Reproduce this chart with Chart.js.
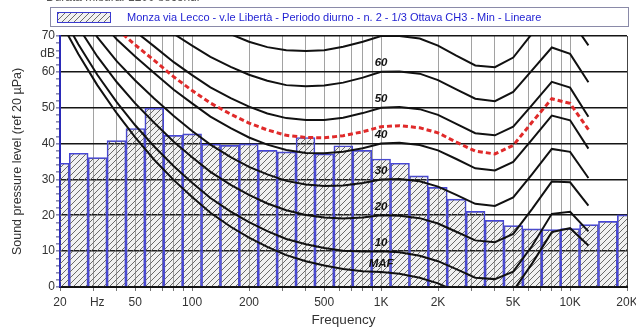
<!DOCTYPE html>
<html><head><meta charset="utf-8">
<script src="https://cdn.jsdelivr.net/npm/chart.js@4.4.1/dist/chart.umd.min.js"></script>
<style>html,body{margin:0;padding:0;background:#fff;}canvas{display:block;}</style>
</head><body>
<canvas id="c" width="636" height="329"></canvas>
<script>
// ---- DATA ----
const seriesLabel = 'Monza via Lecco - v.le Libertà - Periodo diurno - n. 2 - 1/3 Ottava CH3 - Min - Lineare';
const topNote = 'Durata misura: 1200 secondi';
// 1/3 octave band centres (Hz)
const bandHz = [19.95, 25.12, 31.62, 39.81, 50.12, 63.10, 79.43, 100, 125.9, 158.5, 199.5, 251.2, 316.2, 398.1, 501.2, 631.0, 794.3, 1000, 1258.9, 1584.9, 1995.3, 2511.9, 3162.3, 3981.1, 5011.9, 6309.6, 7943.3, 10000, 12589, 15849, 19953];
const bandLevels = [34.5, 37.3, 36.1, 40.8, 44.2, 49.9, 42.3, 42.7, 39.8, 39.5, 39.9, 38.1, 37.7, 41.7, 37.1, 39.4, 38.1, 35.7, 34.5, 31.0, 27.8, 24.5, 21.1, 18.6, 17.1, 16.2, 16.0, 16.3, 17.4, 18.3, 20.1];
// equal loudness contours (dB at each 1/3 octave frequency)
const contourHz = [20, 25, 31.5, 40, 50, 63, 80, 100, 125, 160, 200, 250, 315, 400, 500, 630, 800, 1000, 1250, 1600, 2000, 2500, 3150, 4000, 5000, 6300, 8000, 10000, 12500];
const mafLevels = [74.3, 65.0, 56.3, 48.4, 41.7, 35.5, 29.8, 25.1, 20.7, 16.8, 13.8, 11.2, 8.9, 7.2, 6.0, 5.0, 4.4, 4.2, 3.7, 2.6, 1.0, -1.2, -3.6, -3.9, -1.1, 6.6, 15.3, 16.4, 11.6];
const phon10 = [76.8, 67.7, 59.2, 51.5, 45.1, 39.2, 33.7, 29.1, 24.8, 21.0, 18.1, 15.6, 13.4, 11.9, 10.9, 10.1, 9.9, 10.0, 9.7, 8.7, 7.2, 5.0, 2.6, 2.2, 4.3, 11.5, 20.4, 21.0, 15.5];
const phon20 = [81.3, 72.5, 64.3, 57.1, 51.2, 45.8, 40.5, 36.2, 32.1, 28.5, 25.7, 23.3, 21.4, 20.1, 19.4, 19.1, 19.4, 20.0, 19.9, 19.2, 17.7, 15.4, 13.0, 12.5, 14.8, 21.8, 29.4, 29.2, 22.7];
const phon30 = [86.0, 77.6, 69.7, 62.9, 57.6, 52.6, 47.7, 43.5, 39.7, 36.2, 33.5, 31.4, 29.6, 28.6, 28.2, 28.3, 29.0, 30.0, 30.1, 29.5, 28.0, 25.7, 23.2, 22.6, 25.0, 31.5, 38.5, 37.7, 30.4];
const phon40 = [91.0, 82.9, 75.4, 69.0, 64.3, 59.7, 55.0, 51.2, 47.5, 44.3, 41.7, 39.7, 38.2, 37.4, 37.3, 37.7, 38.7, 40.0, 40.2, 39.6, 38.1, 35.7, 33.1, 32.5, 34.9, 41.2, 47.8, 46.5, 38.6];
const measuredPhon = [93.4, 85.5, 78.1, 72.0, 67.5, 63.2, 58.6, 54.8, 51.3, 48.2, 45.7, 43.8, 42.3, 41.7, 41.6, 42.2, 43.3, 44.7, 45.0, 44.4, 43.0, 40.4, 37.9, 37.1, 39.5, 46.0, 52.5, 51.2, 43.9];
const phon50 = [96.2, 88.5, 81.3, 75.4, 71.3, 67.1, 62.7, 59.1, 55.7, 52.7, 50.3, 48.4, 47.1, 46.6, 46.6, 47.2, 48.5, 50.0, 50.2, 49.6, 48.0, 45.5, 42.9, 42.3, 44.7, 50.8, 57.2, 55.6, 47.5];
const phon60 = [101.7, 94.4, 87.6, 82.1, 78.6, 74.8, 70.6, 67.3, 64.2, 61.4, 59.2, 57.5, 56.3, 56.0, 56.2, 57.0, 58.4, 60.0, 60.1, 59.5, 57.7, 55.1, 52.5, 51.8, 54.4, 60.5, 66.8, 65.0, 57.1];
const phon70 = [107.6, 100.7, 94.3, 89.2, 86.4, 82.8, 78.8, 75.8, 73.0, 70.5, 68.4, 66.9, 66.0, 65.8, 66.0, 67.0, 68.4, 70.0, 70.0, 69.3, 67.3, 64.5, 61.8, 61.3, 64.0, 70.7, 76.4, 74.8, 67.4];
const contourNames = ['60', '50', '40', '30', '20', '10', 'MAF'];
const contourNameLevels = [62.6, 52.6, 42.4, 32.4, 22.3, 12.3, 6.5];
const contourNameHz = 1000;
// axis ticks
const gridHz = [20, 30, 31.5, 40, 50, 60, 70, 80, 90, 100, 200, 300, 400, 500, 600, 700, 800, 900, 1000, 2000, 3000, 4000, 5000, 6000, 7000, 8000, 9000, 10000, 20000];
const xTickText = {20: '20', 31.5: 'Hz', 50: '50', 100: '100', 200: '200', 500: '500', 1000: '1K', 2000: '2K', 5000: '5K', 10000: '10K', 20000: '20K'};
const yTickValues = [0, 2, 4, 6, 8, 10, 12, 14, 16, 18, 20, 22, 24, 26, 28, 30, 32, 34, 36, 38, 40, 42, 44, 46, 48, 50, 52, 54, 56, 58, 60, 62, 64, 65, 66, 68, 70];
const yTickText = {0: '0', 10: '10', 20: '20', 30: '30', 40: '40', 50: '50', 60: '60', 65: 'dB', 70: '70'};

// ---- STYLE ----
const FONT = '"Liberation Sans", Arial, sans-serif';
function makeHatch() {
  const c = document.createElement('canvas');
  c.width = 6; c.height = 6;
  const g = c.getContext('2d');
  g.fillStyle = 'rgba(120,120,120,0.10)';
  g.fillRect(0, 0, 6, 6);
  g.strokeStyle = '#6a6a6a';
  g.lineWidth = 1;
  g.beginPath();
  g.moveTo(0, 6); g.lineTo(6, 0);
  g.moveTo(-1, 1); g.lineTo(1, -1);
  g.moveTo(5, 7); g.lineTo(7, 5);
  g.stroke();
  return g.createPattern(c, 'repeat');
}
const hatch = makeHatch();

function pts(levels) { return contourHz.map((f, i) => ({x: f, y: levels[i]})); }
function curve(label, levels) {
  return {type: 'line', label, data: pts(levels), borderColor: '#111', borderWidth: 2,
    pointRadius: 0, tension: 0, fill: false, order: 1};
}

const labelPlugin = {
  id: 'decor',
  afterDatasetsDraw(chart) {
    const ctx = chart.ctx, xs = chart.scales.x, ys = chart.scales.y;
    ctx.save();
    ctx.font = 'italic bold 11.5px ' + FONT;
    ctx.fillStyle = '#111';
    ctx.textAlign = 'center';
    ctx.textBaseline = 'middle';
    const x = xs.getPixelForValue(contourNameHz);
    contourNames.forEach((t, i) => ctx.fillText(t, x, ys.getPixelForValue(contourNameLevels[i])));
    ctx.restore();
  },
  afterDraw(chart) {
    const ctx = chart.ctx;
    ctx.save();
    ctx.font = '12px ' + FONT;
    ctx.fillStyle = '#555';
    ctx.textBaseline = 'middle';
    ctx.fillText(topNote, 46, -2);
    ctx.strokeStyle = '#8a8aa8';
    ctx.lineWidth = 1;
    ctx.strokeRect(50.5, 7.5, 578, 19);
    ctx.fillStyle = hatch;
    ctx.fillRect(57, 12, 53, 10);
    ctx.strokeStyle = '#3a3ad0';
    ctx.strokeRect(57.5, 12.5, 53, 10);
    ctx.fillStyle = '#1e1ed2';
    ctx.font = '11px ' + FONT;
    ctx.textBaseline = 'middle';
    ctx.fillText(seriesLabel, 127, 17.5);
    ctx.restore();
  }
};

new Chart(document.getElementById('c'), {
  type: 'bar',
  data: {
    datasets: [
      {type: 'line', label: 'Loudness', data: pts(measuredPhon), borderColor: '#e02a2a', borderWidth: 3,
        borderDash: [5, 3], pointRadius: 0, tension: 0, fill: false, order: 0},
      curve('70', phon70), curve('60', phon60), curve('50', phon50), curve('40', phon40),
      curve('30', phon30), curve('20', phon20), curve('10', phon10), curve('MAF', mafLevels),
      {type: 'bar', label: seriesLabel, data: bandHz.map((f, i) => ({x: f, y: bandLevels[i]})),
        backgroundColor: hatch, borderColor: '#4646d6', borderWidth: {top: 1, left: 1, right: 1, bottom: 0},
        barThickness: 'flex', barPercentage: 1, categoryPercentage: 1, order: 10}
    ]
  },
  options: {
    responsive: false,
    animation: false,
    layout: {padding: {left: 0, right: 9, top: 36, bottom: 0}},
    plugins: {legend: {display: false}, tooltip: {enabled: false}},
    scales: {
      x: {
        type: 'logarithmic', min: 20, max: 20000, offset: false,
        afterBuildTicks(s) { s.ticks = gridHz.map(v => ({value: v})); },
        afterFit(s) { s.height = 42; s.paddingLeft = 0; s.paddingRight = 0; },
        ticks: {autoSkip: false, maxRotation: 0, padding: 4, color: '#333',
          font: {family: FONT, size: 12},
          callback: (v) => xTickText[v] !== undefined ? xTickText[v] : ''},
        grid: {offset: false, lineWidth: 1, tickLength: 4,
          color: (c) => c.tick && c.tick.value === 31.5 ? 'rgba(0,0,0,0)' : (c.tick && c.tick.value === 20000 ? '#444' : '#a2a2a2'),
          tickColor: (c) => c.tick && c.tick.value === 31.5 ? 'rgba(0,0,0,0)' : '#777'},
        border: {color: '#111', width: 2},
        title: {display: true, text: 'Frequency', color: '#333', font: {family: FONT, size: 13.5}, padding: {top: 0, bottom: 1}}
      },
      y: {
        type: 'linear', min: 0, max: 70,
        afterBuildTicks(s) { s.ticks = yTickValues.map(v => ({value: v})); },
        afterFit(s) { s.width = 60; s.paddingTop = 0; s.paddingBottom = 0; },
        ticks: {autoSkip: false, padding: 1, color: '#333', font: {family: FONT, size: 12},
          callback: (v) => yTickText[v] !== undefined ? yTickText[v] : ''},
        grid: {lineWidth: 1.6, tickLength: 4,
          color: (c) => c.tick && c.tick.value % 10 === 0 ? '#151515' : 'rgba(0,0,0,0)',
          tickColor: (c) => c.tick && c.tick.value === 65 ? 'rgba(0,0,0,0)' : '#8a8ab0'},
        border: {color: '#2a2ab8', width: 2},
        title: {display: true, text: 'Sound pressure level (ref 20 µPa)', color: '#333', font: {family: FONT, size: 12.5}, padding: {top: 10, bottom: 6}}
      }
    }
  },
  plugins: [labelPlugin]
});
</script>
</body></html>
